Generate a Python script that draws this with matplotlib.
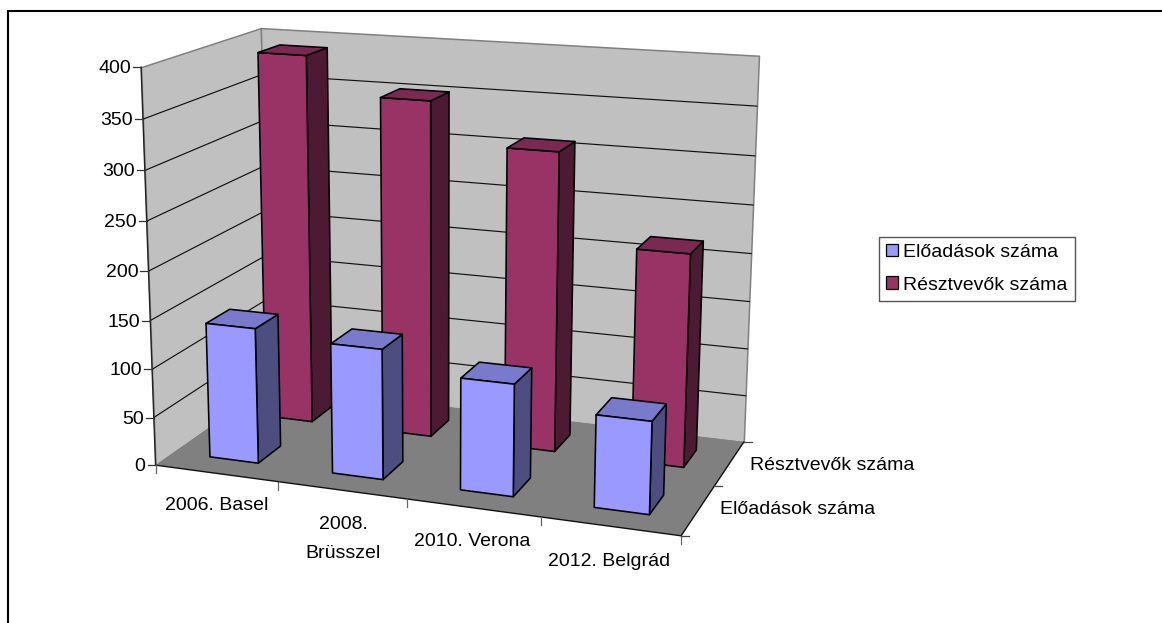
import numpy as np
import matplotlib
matplotlib.use("Agg")
import matplotlib.pyplot as plt
from matplotlib.patches import Patch
from mpl_toolkits.mplot3d import Axes3D  # noqa: F401
from mpl_toolkits.mplot3d.art3d import Poly3DCollection

plt.rcParams['font.family'] = ['Liberation Sans', 'DejaVu Sans']

# ---- data ----
categories = ['2006. Basel', '2008.\nBrüsszel', '2010. Verona', '2012. Belgrád']
series_names = ['Előadások száma', 'Résztvevők száma']
eloadasok = [140, 133, 113, 92]
resztvevok = [390, 352, 310, 219]
z_ticks = [0, 50, 100, 150, 200, 250, 300, 350, 400]

# ---- style ----
WALL = '#C0C0C0'
FLOOR = '#808080'
BLUE = ('#9999FF', '#7A7ACC', '#4D4D80')
RED = ('#993366', '#7A2952', '#4D1A33')
BAR_W = 0.40
BAR_D = 0.40

# camera calibration: box location (category, series, value) -> pixel
calib = [
    (0, 0, 0, 156, 465), (0, 0, 50, 155, 418), (0, 0, 100, 152.7, 369.3),
    (0, 0, 150, 150, 320.7), (0, 0, 250, 146.7, 221), (0, 0, 300, 145, 170.7),
    (0, 0, 350, 142.7, 118.7), (0, 0, 400, 140.7, 66.7),
    (0, 2, 400, 261, 28), (0, 2, 0, 268, 386),
    (4, 2, 400, 759.3, 56.7), (4, 2, 350, 756.7, 106.7), (4, 2, 300, 755, 156),
    (4, 2, 250, 753.3, 204), (4, 2, 200, 751, 253), (4, 2, 150, 749.3, 302),
    (4, 2, 0, 744, 441.7),
    (1, 0, 0, 277.7, 482), (2, 0, 0, 406, 499), (3, 0, 0, 539.3, 517.7),
    (4, 0, 0, 681.7, 535), (4, 1, 0, 715, 486),
]


def fit_camera(points):
    rows = []
    for X, Y, Z, u, v in points:
        h = [X, Y, Z / 100.0, 1.0]
        rows.append(h + [0, 0, 0, 0] + [-u * c for c in h])
        rows.append([0, 0, 0, 0] + h + [-v * c for c in h])
    A = np.array(rows, float)
    _, _, vt = np.linalg.svd(A)
    P = vt[-1].reshape(3, 4)
    P[:, 2] /= 100.0
    return P / P[2, 3]


P = fit_camera(calib)


def project(x, y, z):
    h = P @ np.array([x, y, z, 1.0])
    return h[0] / h[2], h[1] / h[2]


W, H = 1162, 623
fig = plt.figure(figsize=(W / 100, H / 100), dpi=100, facecolor='white')
ax = fig.add_axes([0, 0, 1, 1], projection='3d', computed_zorder=False)
ax.set_axis_off()
ax.patch.set_visible(False)
ax.apply_aspect = lambda position=None: None
ax.set_xlim(0, 4)
ax.set_ylim(0, 2)
ax.set_zlim(0, 400)


def camera_matrix():
    x0, x1 = ax.viewLim.intervalx
    y0, y1 = ax.viewLim.intervaly
    sx = (x1 - x0) / W
    sy = -(y1 - y0) / H
    to_view = np.array([[sx, 0, x0], [0, sy, y1], [0, 0, 1.0]])
    m = to_view @ P
    # depth stays negative (in front of the camera) and grows with distance
    return np.array([m[0], m[1], P[2] - np.array([0, 0, 0, 5.0]), P[2]])


ax.get_proj = camera_matrix

# walls and floor
x_end, y_end, z_end = len(categories), len(series_names), z_ticks[-1]
walls = [
    ([(0, 0, 0), (0, y_end, 0), (0, y_end, z_end), (0, 0, z_end)], WALL, '#808080', 0),
    ([(0, y_end, 0), (x_end, y_end, 0), (x_end, y_end, z_end), (0, y_end, z_end)], WALL, '#808080', 0),
    ([(0, 0, 0), (x_end, 0, 0), (x_end, y_end, 0), (0, y_end, 0)], FLOOR, 'none', 1),
]
for verts, fc, ec, zo in walls:
    ax.add_collection3d(Poly3DCollection([verts], facecolors=fc, edgecolors=ec,
                                         linewidths=1.1, zorder=zo))

# gridlines
for z in z_ticks[1:-1]:
    ax.plot([0, 0, x_end], [0, y_end, y_end], [z, z, z], color='#111111', lw=0.85, zorder=4)

# axis lines
ax.plot([0, 0], [0, 0], [0, z_end], color='#222222', lw=1.0, zorder=4)
ax.plot([0, x_end, x_end], [0, 0, y_end], [0, 0, 0], color='#111111', lw=1.0, zorder=4)


def add_bars(values, depth, cols, zo):
    front, top, side = cols
    face = ['#00000000', top, front, '#00000000', '#00000000', side]
    edge = ['#00000000', 'black', 'black', '#00000000', '#00000000', 'black']
    for i, v in enumerate(values):
        ax.bar3d(i + 0.5 - BAR_W / 2, depth + 0.5 - BAR_D / 2, 0, BAR_W, BAR_D, v,
                 color=face, edgecolor=edge, shade=False, linewidth=1.15, zorder=zo + i * 0.01)


add_bars(resztvevok, 1, RED, 5)
add_bars(eloadasok, 0, BLUE, 6)

# overlay: frame, ticks, labels, legend, in pixel coordinates
ov = fig.add_axes([0, 0, 1, 1], zorder=10)
ov.set_xlim(0, W)
ov.set_ylim(H, 0)
ov.axis('off')
ov.plot([8, 8, W], [H, 10.5, 10.5], color='black', lw=1.5, solid_joinstyle='miter', clip_on=False)

FS = 14
for z in z_ticks:
    px, py = project(0, 0, z)
    ov.plot([px - 8, px], [py, py], color='#333333', lw=0.9)
    ov.text(px - 10, py + 1.5, str(z), ha='right', va='center', fontsize=FS, color='black')

for i in range(len(categories) + 1):
    px, py = project(i, 0, 0)
    ov.plot([px, px], [py, py + 8], color='#666666', lw=0.9)
for j in range(len(series_names) + 1):
    px, py = project(x_end, j, 0)
    ov.plot([px, px + 8], [py, py], color='#444444', lw=0.9)

cat_pos = [(217, 506), (343, 539), (472, 542), (609, 562)]
for (lx, ly), lab in zip(cat_pos, categories):
    ov.text(lx, ly, lab, ha='center', va='center', fontsize=FS, linespacing=1.95)
ser_pos = [(720, 510), (750, 465)]
for (lx, ly), lab in zip(ser_pos, series_names):
    ov.text(lx, ly, lab, ha='left', va='center', fontsize=FS)

handles = [Patch(facecolor=BLUE[0], edgecolor='black', lw=0.9),
           Patch(facecolor=RED[0], edgecolor='black', lw=0.9)]
leg = ov.legend(handles, series_names, loc='upper left', bbox_to_anchor=(878.7, 236.7),
                bbox_transform=ov.transData, fontsize=FS, fancybox=False, framealpha=1,
                edgecolor='#555555', borderaxespad=0, borderpad=0.37, labelspacing=0.8,
                handlelength=0.6, handleheight=0.6, handletextpad=0.3)
leg.get_frame().set_linewidth(1.0)

fig.savefig('out.png', dpi=100, facecolor='white')
